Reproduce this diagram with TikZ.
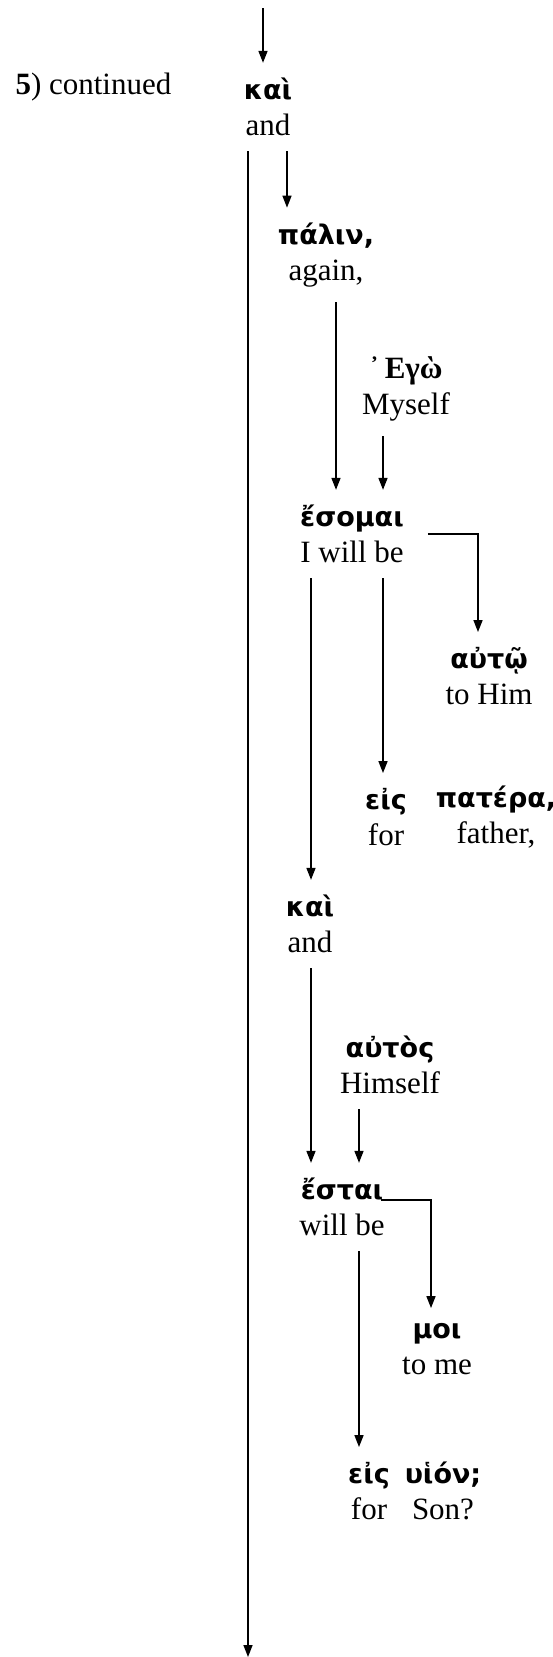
\documentclass[tikz,border=0pt]{standalone}
\usepackage{fontspec}
\setmainfont{Liberation Serif}
\newfontfamily\grfont{DejaVu Sans}
\usetikzlibrary{arrows.meta,positioning}
\newcommand{\gk}[1]{{\grfont\bfseries\fontsize{27}{36}\selectfont #1}}
\newcommand{\gb}[1]{{\bfseries #1}}

\tikzset{
  word/.style={align=center,inner xsep=0pt,inner ysep=15pt,font=\fontsize{31}{36}\selectfont},
  arr/.style={-{Triangle[width=9pt,length=12pt]},line width=1.5pt},
}

\begin{document}
\begin{tikzpicture}[x=1pt,y=-1pt]
\useasboundingbox (0,0) rectangle (553,1657);
% columns of the connectors
\coordinate (top) at (263,8);
\coordinate (end) at (248,1657);
\coordinate (cpal) at (287,0);
\coordinate (cag) at (336,0);
\coordinate (cmy) at (383,0);
\coordinate (ces) at (311,0);
\coordinate (caw) at (478,0);
\coordinate (chi) at (359,0);
\coordinate (cmo) at (431,0);
% words
\node[anchor=base west,font=\fontsize{31}{36}\selectfont] (lbl) at (12,94) {\textbf{5}) continued};
\node[word] (kai1) at (268,107) {\gk{καὶ}\\and};
\node[word] (palin) at (326,255) {\gk{πάλιν,}\\again,};
\node[word] (ego) at (406,389) {\gb{᾿\,Εγὼ}\\Myself};
\node[word] (esomai) at (352,534) {\gk{ἔσομαι}\\I will be};
\node[word] (autw) at (489,676) {\gk{αὐτῷ}\\to Him};
\node[word] (eis1) at (386,817) {\gk{εἰς}\\for};
\node[word] (pater) at (496,817) {\gk{πατέρα,}\\father,};
\node[word] (kai2) at (310,924) {\gk{καὶ}\\and};
\node[word] (autos) at (390,1065) {\gk{αὐτὸς}\\Himself};
\node[word] (estai) at (342,1207) {\gk{ἔσται}\\will be};
\node[word] (moi) at (437,1349) {\gk{μοι}\\to me};
\node[word] (eis2) at (369,1491) {\gk{εἰς}\\for};
\node[word] (huion) at (443,1491) {\gk{υἱόν;}\\Son?};
% connectors
\draw[arr] (top) -- (top |- kai1.north);
\draw[arr] (kai1.south -| end) -- (end);
\draw[arr] (kai1.south -| cpal) -- (palin.north -| cpal);
\draw[arr] (palin.south -| cag) -- (esomai.north -| cag);
\draw[arr] (ego.south -| cmy) -- (esomai.north -| cmy);
\draw[arr] ([xshift=24pt]esomai.east) -| (autw.north -| caw);
\draw[arr] (esomai.south -| cmy) -- (eis1.north -| cmy);
\draw[arr] (esomai.south -| ces) -- (kai2.north -| ces);
\draw[arr] (kai2.south -| ces) -- (estai.north -| ces);
\draw[arr] (autos.south -| chi) -- (estai.north -| chi);
\draw[arr] ([xshift=-4pt,yshift=7pt]estai.east) -| (moi.north -| cmo);
\draw[arr] (estai.south -| chi) -- (eis2.north -| chi);
\end{tikzpicture}
\end{document}
